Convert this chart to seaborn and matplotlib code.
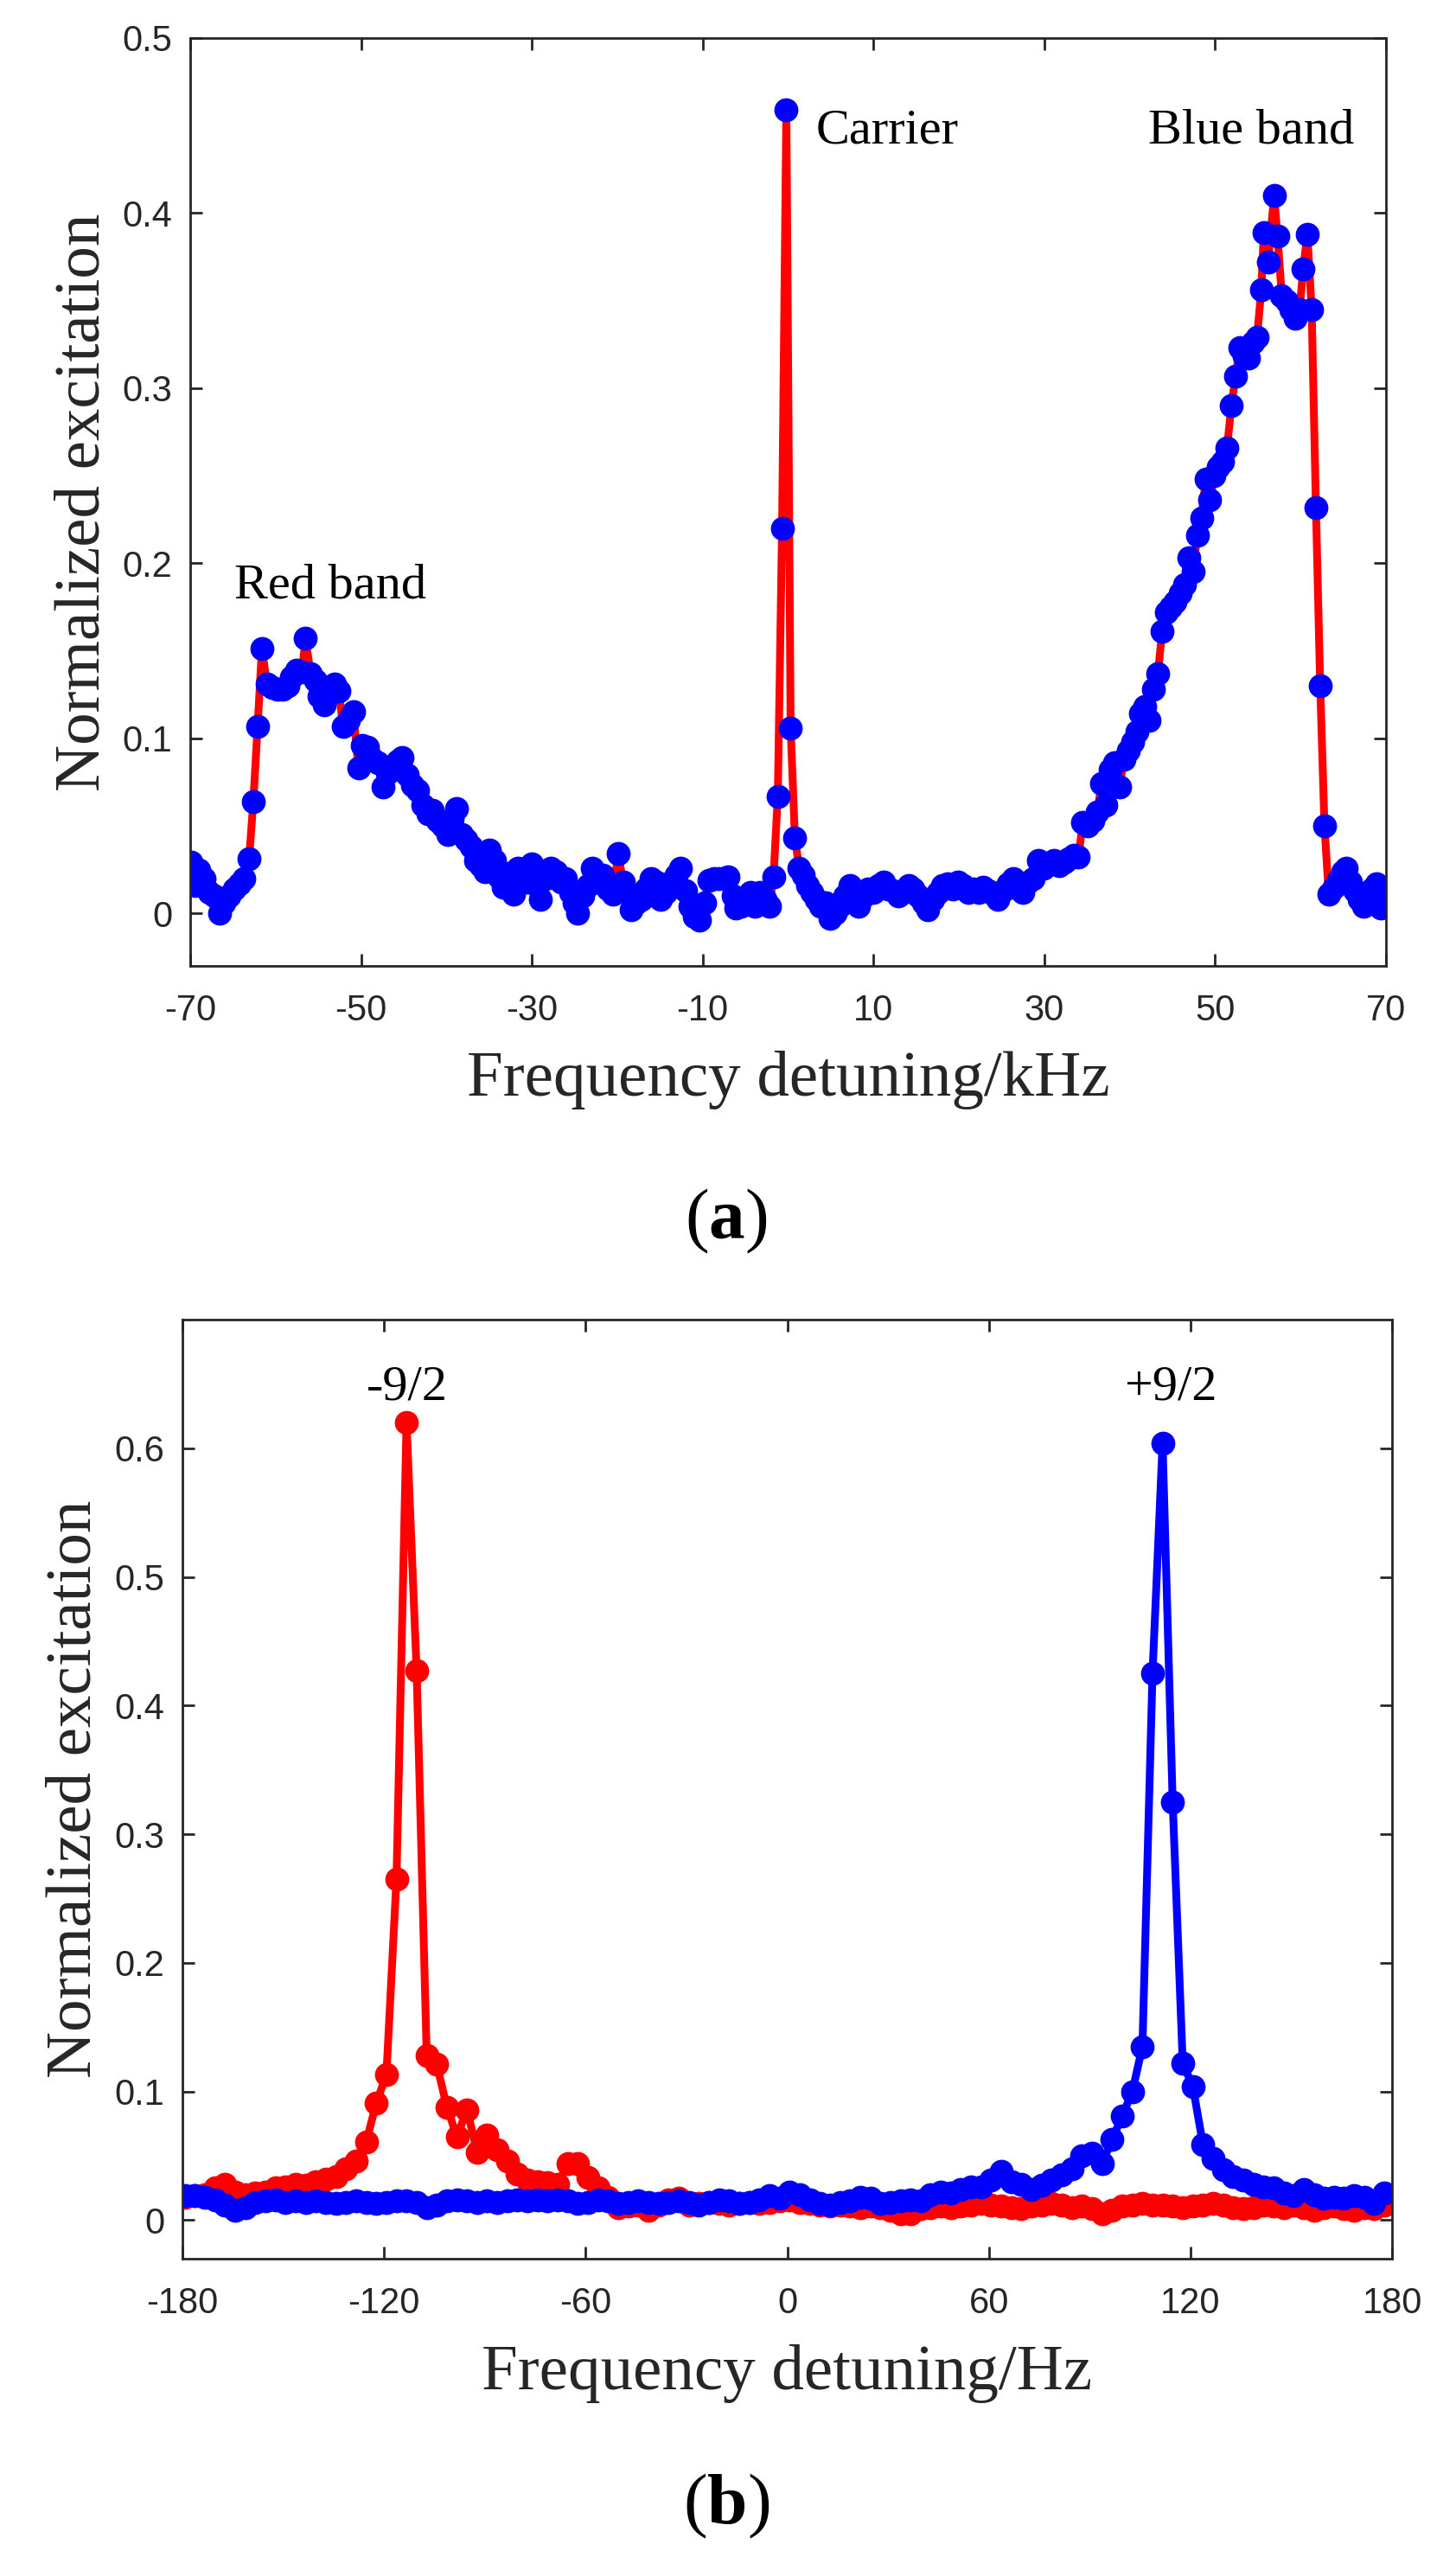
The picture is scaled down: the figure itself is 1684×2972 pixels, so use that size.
import matplotlib
matplotlib.use("Agg")
import matplotlib.pyplot as plt
import seaborn as sns

# ---------------- data: panel (a) ----------------
freq_a = [
    -69.9, -69.4, -69.0, -68.4, -67.8, -67.2, -66.6, -66.0, -65.4, -64.8,
    -64.2, -63.7, -63.1, -62.6, -62.1, -61.6, -61.0, -60.4, -59.8, -59.2,
    -58.6, -58.1, -57.5, -56.9, -56.5, -55.9, -55.3, -54.9, -54.3, -53.7,
    -53.1, -52.6, -52.1, -51.5, -50.9, -50.3, -49.8, -49.2, -48.6, -48.0,
    -47.4, -46.9, -46.3, -45.7, -45.2, -44.6, -44.0, -43.4, -42.8, -42.2,
    -41.6, -41.0, -40.4, -39.8, -39.3, -38.8, -38.2, -37.7, -37.1, -36.6,
    -36.0, -35.5, -35.0, -34.4, -33.9, -33.3, -32.7, -32.1, -31.6, -31.0,
    -30.5, -30.0, -29.4, -29.0, -28.4, -27.8, -27.2, -26.6, -26.1, -25.5,
    -25.0, -24.6, -24.0, -23.4, -22.9, -22.3, -21.7, -21.1, -20.5, -19.9,
    -19.3, -18.8, -18.4, -17.8, -17.2, -16.6, -16.0, -15.4, -14.9, -14.3,
    -13.7, -13.1, -12.6, -12.0, -11.5, -11.0, -10.4, -9.8, -9.3, -8.7,
    -8.1, -7.6, -7.0, -6.4, -6.1, -5.5, -4.9, -4.4, -3.9, -3.3,
    -2.7, -2.2, -1.7, -1.2, -0.7, -0.2, 0.3, 0.8, 1.3, 1.8,
    2.3, 2.8, 3.3, 3.8, 4.4, 4.9, 5.5, 6.0, 6.6, 7.2,
    7.7, 8.3, 8.9, 9.4, 10.0, 10.6, 11.2, 11.7, 12.3, 12.9,
    13.5, 14.1, 14.6, 15.2, 15.8, 16.4, 17.0, 17.6, 18.1, 18.7,
    19.3, 19.9, 20.5, 21.1, 21.7, 22.3, 22.8, 23.4, 24.0, 24.6,
    25.2, 25.8, 26.4, 27.0, 27.5, 28.1, 28.7, 29.3, 29.9, 30.5,
    31.1, 31.7, 32.3, 32.9, 33.5, 34.0, 34.5, 35.1, 35.7, 36.2,
    36.7, 37.2, 37.7, 38.2, 38.8, 39.3, 39.8, 40.3, 40.8, 41.3,
    41.8, 42.3, 42.8, 43.3, 43.8, 44.3, 44.8, 45.3, 45.9, 46.4,
    46.9, 47.4, 47.9, 48.4, 48.9, 49.4, 49.9, 50.4, 50.9, 51.4,
    51.9, 52.4, 52.9, 53.4, 53.9, 54.4, 54.9, 55.4, 55.7, 56.2,
    56.9, 57.3, 57.8, 58.4, 58.9, 59.4, 59.9, 60.3, 60.8, 61.3,
    61.8, 62.3, 62.8, 63.3, 63.9, 64.4, 64.9, 65.3, 65.9, 66.4,
    66.9, 67.4, 67.9, 68.4, 68.9, 69.4, 69.8,
]
exc_a = [
    0.029, 0.016, 0.025, 0.020, 0.012, 0.010, 0.000, 0.006, 0.010, 0.014,
    0.017, 0.020, 0.031, 0.064, 0.107, 0.151, 0.131, 0.129, 0.128, 0.128,
    0.130, 0.135, 0.139, 0.138, 0.157, 0.137, 0.133, 0.124, 0.119, 0.125,
    0.131, 0.127, 0.107, 0.110, 0.115, 0.083, 0.096, 0.095, 0.088, 0.086,
    0.072, 0.080, 0.082, 0.087, 0.089, 0.079, 0.073, 0.070, 0.062, 0.057,
    0.059, 0.053, 0.050, 0.045, 0.054, 0.060, 0.045, 0.042, 0.038, 0.030,
    0.027, 0.024, 0.036, 0.030, 0.021, 0.015, 0.023, 0.011, 0.026, 0.022,
    0.018, 0.028, 0.016, 0.008, 0.020, 0.026, 0.024, 0.018, 0.020, 0.012,
    0.006, 0.000, 0.010, 0.016, 0.026, 0.018, 0.022, 0.014, 0.011, 0.034,
    0.018, 0.012, 0.002, 0.006, 0.008, 0.014, 0.020, 0.018, 0.008, 0.012,
    0.018, 0.022, 0.026, 0.013, 0.004, -0.002, -0.004, 0.006, 0.019, 0.020,
    0.020, 0.020, 0.021, 0.010, 0.003, 0.004, 0.008, 0.012, 0.004, 0.012,
    0.008, 0.004, 0.021, 0.067, 0.220, 0.459, 0.106, 0.043, 0.026, 0.022,
    0.016, 0.012, 0.008, 0.004, 0.006, -0.003, 0.000, 0.004, 0.010, 0.016,
    0.012, 0.004, 0.010, 0.014, 0.012, 0.016, 0.018, 0.014, 0.013, 0.010,
    0.012, 0.016, 0.014, 0.010, 0.006, 0.002, 0.008, 0.012, 0.016, 0.017,
    0.014, 0.018, 0.016, 0.012, 0.014, 0.012, 0.015, 0.013, 0.011, 0.008,
    0.013, 0.017, 0.020, 0.014, 0.012, 0.018, 0.020, 0.030, 0.026, 0.028,
    0.030, 0.027, 0.029, 0.031, 0.033, 0.032, 0.052, 0.050, 0.053, 0.058,
    0.074, 0.062, 0.082, 0.086, 0.072, 0.088, 0.093, 0.098, 0.104, 0.114,
    0.118, 0.110, 0.128, 0.137, 0.161, 0.172, 0.175, 0.178, 0.183, 0.188,
    0.203, 0.195, 0.216, 0.226, 0.248, 0.236, 0.250, 0.255, 0.258, 0.266,
    0.290, 0.307, 0.323, 0.318, 0.317, 0.326, 0.329, 0.356, 0.389, 0.372,
    0.410, 0.387, 0.353, 0.350, 0.345, 0.340, 0.345, 0.368, 0.388, 0.345,
    0.232, 0.130, 0.050, 0.011, 0.015, 0.019, 0.024, 0.026, 0.018, 0.013,
    0.008, 0.004, 0.010, 0.014, 0.017, 0.003, 0.005,
]

# ---------------- data: panel (b) ----------------
freq_b = [
    -179.3, -176.3, -173.3, -170.3, -167.3, -164.3, -161.3, -158.3, -155.3, -152.3,
    -149.3, -146.3, -143.3, -140.3, -137.3, -134.3, -131.3, -128.3, -125.3, -122.3,
    -119.3, -116.3, -113.3, -110.3, -107.3, -104.3, -101.3, -98.3, -95.3, -92.3,
    -89.3, -86.3, -83.3, -80.3, -77.3, -74.3, -71.3, -68.3, -65.3, -62.3,
    -59.3, -56.3, -53.3, -50.3, -47.3, -44.3, -41.3, -38.3, -35.3, -32.3,
    -29.3, -26.3, -23.3, -20.3, -17.3, -14.3, -11.3, -8.3, -5.3, -2.3,
    0.7, 3.7, 6.7, 9.7, 12.7, 15.7, 18.7, 21.7, 24.7, 27.7,
    30.7, 33.7, 36.7, 39.7, 42.7, 45.7, 48.7, 51.7, 54.7, 57.7,
    60.7, 63.7, 66.7, 69.7, 72.7, 75.7, 78.7, 81.7, 84.7, 87.7,
    90.7, 93.7, 96.7, 99.7, 102.7, 105.7, 108.7, 111.7, 114.7, 117.7,
    120.7, 123.7, 126.7, 129.7, 132.7, 135.7, 138.7, 141.7, 144.7, 147.7,
    150.7, 153.7, 156.7, 159.7, 162.7, 165.7, 168.7, 171.7, 174.7, 177.7,
]
minus_9_2 = [
    0.018, 0.019, 0.020, 0.025, 0.028, 0.022, 0.020, 0.021, 0.022, 0.025,
    0.026, 0.028, 0.027, 0.030, 0.032, 0.034, 0.040, 0.046, 0.061, 0.091,
    0.113, 0.265, 0.620, 0.427, 0.128, 0.121, 0.088, 0.065, 0.086, 0.053,
    0.066, 0.055, 0.046, 0.036, 0.031, 0.030, 0.029, 0.028, 0.044, 0.044,
    0.033, 0.025, 0.018, 0.010, 0.011, 0.012, 0.008, 0.012, 0.016, 0.017,
    0.012, 0.013, 0.014, 0.013, 0.012, 0.013, 0.014, 0.013, 0.014, 0.015,
    0.016, 0.014, 0.013, 0.012, 0.011, 0.012, 0.011, 0.010, 0.011, 0.010,
    0.008, 0.005, 0.005, 0.009, 0.010, 0.011, 0.010, 0.011, 0.012, 0.013,
    0.012, 0.011, 0.010, 0.009, 0.011, 0.012, 0.013, 0.012, 0.010, 0.011,
    0.009, 0.005, 0.008, 0.011, 0.012, 0.013, 0.012, 0.012, 0.011, 0.010,
    0.011, 0.012, 0.013, 0.012, 0.010, 0.009, 0.010, 0.012, 0.011, 0.010,
    0.012, 0.010, 0.008, 0.010, 0.011, 0.009, 0.008, 0.010, 0.009, 0.012,
]
plus_9_2 = [
    0.019, 0.019, 0.018, 0.016, 0.012, 0.008, 0.010, 0.014, 0.015, 0.016,
    0.014, 0.015, 0.014, 0.015, 0.014, 0.013, 0.014, 0.015, 0.014, 0.013,
    0.014, 0.015, 0.015, 0.014, 0.010, 0.012, 0.015, 0.016, 0.015, 0.014,
    0.015, 0.014, 0.015, 0.016, 0.015, 0.016, 0.015, 0.016, 0.015, 0.013,
    0.014, 0.016, 0.015, 0.013, 0.014, 0.015, 0.014, 0.013, 0.014, 0.015,
    0.014, 0.012, 0.014, 0.016, 0.015, 0.013, 0.014, 0.016, 0.019, 0.017,
    0.022, 0.020, 0.016, 0.013, 0.012, 0.014, 0.015, 0.018, 0.017, 0.013,
    0.014, 0.015, 0.016, 0.015, 0.020, 0.022, 0.021, 0.024, 0.026, 0.026,
    0.031, 0.038, 0.030, 0.028, 0.024, 0.027, 0.031, 0.035, 0.040, 0.050,
    0.052, 0.044, 0.063, 0.081, 0.100, 0.135, 0.425, 0.604, 0.325, 0.122,
    0.104, 0.059, 0.048, 0.039, 0.034, 0.031, 0.028, 0.026, 0.025, 0.021,
    0.019, 0.024, 0.020, 0.017, 0.018, 0.017, 0.019, 0.018, 0.013, 0.021,
]

xticks_a = [-70, -50, -30, -10, 10, 30, 50, 70]
yticks_a = [0, 0.1, 0.2, 0.3, 0.4, 0.5]
ytick_labels_a = ["0", "0.1", "0.2", "0.3", "0.4", "0.5"]
xticks_b = [-180, -120, -60, 0, 60, 120, 180]
yticks_b = [0, 0.1, 0.2, 0.3, 0.4, 0.5, 0.6]
ytick_labels_b = ["0", "0.1", "0.2", "0.3", "0.4", "0.5", "0.6"]

# ---------------- style ----------------
sns.set_theme(style="white")
plt.rcParams["font.family"] = ["Liberation Sans", "DejaVu Sans"]
plt.rcParams["axes.unicode_minus"] = False
plt.rcParams["mathtext.fontset"] = "custom"
plt.rcParams["mathtext.rm"] = "Liberation Serif"
plt.rcParams["mathtext.bf"] = "Liberation Serif:bold"

RED = "#FF0000"
BLUE = "#0000FF"
AXC = "#262626"
SERIF = ["Liberation Serif", "DejaVu Serif"]

fig = plt.figure(figsize=(16.84, 29.72), dpi=100)
ax1 = fig.add_axes([0.1306, 0.6242, 0.8213, 0.3610])
ax2 = fig.add_axes([0.1253, 0.1211, 0.8308, 0.3654])

LW = 6.5
MS = 20

# panel (a): red line with blue markers
sns.lineplot(x=freq_a, y=exc_a, ax=ax1, sort=False, estimator=None, errorbar=None,
             color=RED, linewidth=LW, marker="o", markersize=MS,
             markerfacecolor=BLUE, markeredgecolor=BLUE, markeredgewidth=0)

# panel (b): two series
sns.lineplot(x=freq_b, y=minus_9_2, ax=ax2, sort=False, estimator=None, errorbar=None,
             color=RED, linewidth=LW, marker="o", markersize=MS,
             markerfacecolor=RED, markeredgecolor=RED, markeredgewidth=0)
sns.lineplot(x=freq_b, y=plus_9_2, ax=ax2, sort=False, estimator=None, errorbar=None,
             color=BLUE, linewidth=LW, marker="o", markersize=MS,
             markerfacecolor=BLUE, markeredgecolor=BLUE, markeredgewidth=0)

def style_axes(ax, xt, yt, ytl, xlim, ylim, xlabel, xlab_y, ylab_x):
    ax.set_xlim(*xlim)
    ax.set_ylim(*ylim)
    ax.set_xticks(xt)
    ax.set_xticklabels([str(v) for v in xt])
    ax.set_yticks(yt)
    ax.set_yticklabels(ytl)
    ax.tick_params(axis="both", which="both", direction="in", length=10, width=2,
                   colors=AXC, labelsize=30, top=True, right=True,
                   bottom=True, left=True)
    ax.tick_params(axis="x", pad=23)
    ax.tick_params(axis="y", pad=15)
    for sp in ax.spines.values():
        sp.set_visible(True)
        sp.set_color(AXC)
        sp.set_linewidth(2)
    ax.grid(False)
    ax.set_xlabel(xlabel, fontsize=54, family=SERIF, color=AXC)
    ax.set_ylabel("Normalized excitation", fontsize=54, family=SERIF, color=AXC)
    ax.xaxis.set_label_coords(0.5, xlab_y)
    ax.xaxis.label.set_verticalalignment("baseline")
    ax.yaxis.set_label_coords(ylab_x, 0.5)

style_axes(ax1, xticks_a, yticks_a, ytick_labels_a, (-70, 70), (-0.03, 0.5),
           "Frequency detuning/kHz", -0.1398, -0.0644)
style_axes(ax2, xticks_b, yticks_b, ytick_labels_b, (-180, 180), (-0.03, 0.7),
           "Frequency detuning/Hz", -0.139, -0.065)

# annotations
ann = dict(fontsize=42, family=SERIF, color="black", va="baseline")
ax1.text(-64.8, 0.180, "Red band", ha="left", **ann)
ax1.text(3.25, 0.440, "Carrier", ha="left", **ann)
ax1.text(42.2, 0.440, "Blue band", ha="left", **ann)
ax2.text(-113.1, 0.638, "-9/2", ha="center", **ann)
ax2.text(114.1, 0.638, "+9/2", ha="center", **ann)

# panel captions
fig.text(0.4988, 1 - 1432 / 2972, r"($\mathbf{a}$)", ha="center", va="baseline",
         fontsize=60, family=SERIF, color="black")
fig.text(0.4988, 1 - 2918 / 2972, r"($\mathbf{b}$)", ha="center", va="baseline",
         fontsize=60, family=SERIF, color="black")

fig.savefig("out.png", dpi=100)
